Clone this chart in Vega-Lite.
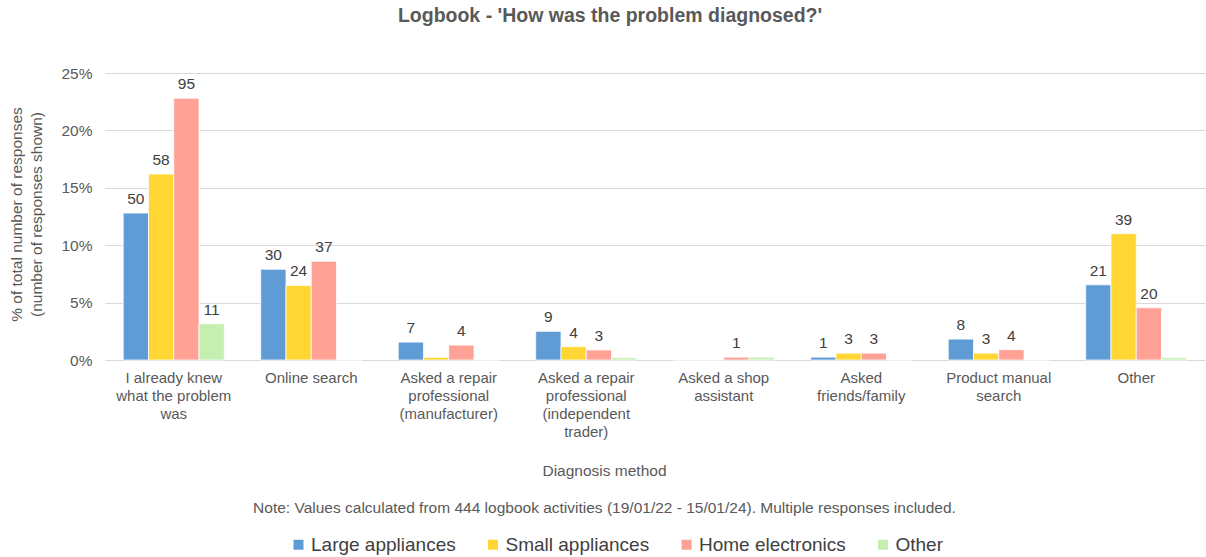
{
  "$schema": "https://vega.github.io/schema/vega-lite/v6.json",
  "width": 1100,
  "height": 287,
  "autosize": "none",
  "padding": {"left": 105, "top": 73, "right": 1, "bottom": 197},
  "background": "white",
  "config": {
    "font": "Liberation Sans",
    "view": {"stroke": null}
  },
  "title": {
    "text": "Logbook - 'How was the problem diagnosed?'",
    "fontSize": 19.5,
    "fontWeight": "bold",
    "color": "#595959",
    "anchor": "middle",
    "frame": "group",
    "dx": -45,
    "offset": 40
  },
  "data": {
    "values": [
      {"method": "I already knew what the problem was", "type": "Large appliances", "pct": 0.128, "count": 50},
      {"method": "I already knew what the problem was", "type": "Small appliances", "pct": 0.162, "count": 58},
      {"method": "I already knew what the problem was", "type": "Home electronics", "pct": 0.228, "count": 95},
      {"method": "I already knew what the problem was", "type": "Other", "pct": 0.0315, "count": 11},
      {"method": "Online search", "type": "Large appliances", "pct": 0.079, "count": 30},
      {"method": "Online search", "type": "Small appliances", "pct": 0.065, "count": 24},
      {"method": "Online search", "type": "Home electronics", "pct": 0.086, "count": 37},
      {"method": "Online search", "type": "Other", "pct": 0, "count": null},
      {"method": "Asked a repair professional (manufacturer)", "type": "Large appliances", "pct": 0.0156, "count": 7},
      {"method": "Asked a repair professional (manufacturer)", "type": "Small appliances", "pct": 0.0023, "count": null},
      {"method": "Asked a repair professional (manufacturer)", "type": "Home electronics", "pct": 0.013, "count": 4},
      {"method": "Asked a repair professional (manufacturer)", "type": "Other", "pct": 0, "count": null},
      {"method": "Asked a repair professional (independent trader)", "type": "Large appliances", "pct": 0.025, "count": 9},
      {"method": "Asked a repair professional (independent trader)", "type": "Small appliances", "pct": 0.0116, "count": 4},
      {"method": "Asked a repair professional (independent trader)", "type": "Home electronics", "pct": 0.0087, "count": 3},
      {"method": "Asked a repair professional (independent trader)", "type": "Other", "pct": 0.002, "count": null},
      {"method": "Asked a shop assistant", "type": "Large appliances", "pct": 0, "count": null},
      {"method": "Asked a shop assistant", "type": "Small appliances", "pct": 0, "count": null},
      {"method": "Asked a shop assistant", "type": "Home electronics", "pct": 0.0025, "count": 1},
      {"method": "Asked a shop assistant", "type": "Other", "pct": 0.0025, "count": null},
      {"method": "Asked friends/family", "type": "Large appliances", "pct": 0.0025, "count": 1},
      {"method": "Asked friends/family", "type": "Small appliances", "pct": 0.006, "count": 3},
      {"method": "Asked friends/family", "type": "Home electronics", "pct": 0.006, "count": 3},
      {"method": "Asked friends/family", "type": "Other", "pct": 0, "count": null},
      {"method": "Product manual search", "type": "Large appliances", "pct": 0.0182, "count": 8},
      {"method": "Product manual search", "type": "Small appliances", "pct": 0.006, "count": 3},
      {"method": "Product manual search", "type": "Home electronics", "pct": 0.009, "count": 4},
      {"method": "Product manual search", "type": "Other", "pct": 0, "count": null},
      {"method": "Other", "type": "Large appliances", "pct": 0.0655, "count": 21},
      {"method": "Other", "type": "Small appliances", "pct": 0.110, "count": 39},
      {"method": "Other", "type": "Home electronics", "pct": 0.0455, "count": 20},
      {"method": "Other", "type": "Other", "pct": 0.002, "count": null}
    ]
  },
  "encoding": {
    "x": {
      "field": "method",
      "type": "nominal",
      "sort": null,
      "scale": {"paddingInner": 0.265, "paddingOuter": 0.1325},
      "axis": {
        "title": ["Diagnosis method", "Note: Values calculated from 444 logbook activities (19/01/22 - 15/01/24). Multiple responses included."],
        "titleFontSize": 15.5,
        "titleFontWeight": "normal",
        "titleColor": "#595959",
        "titleLineHeight": 37,
        "titleX": 499,
        "titleY": 103,
        "titleAlign": "center",
        "titleBaseline": "top",
        "labelAngle": 0,
        "labelFontSize": 15,
        "labelColor": "#595959",
        "labelLineHeight": 18,
        "labelPadding": 10,
        "labelBaseline": "top",
        "ticks": false,
        "domain": false,
        "labelExpr": "datum.value == 'I already knew what the problem was' ? ['I already knew', 'what the problem', 'was'] : datum.value == 'Asked a repair professional (manufacturer)' ? ['Asked a repair', 'professional', '(manufacturer)'] : datum.value == 'Asked a repair professional (independent trader)' ? ['Asked a repair', 'professional', '(independent', 'trader)'] : datum.value == 'Asked a shop assistant' ? ['Asked a shop', 'assistant'] : datum.value == 'Asked friends/family' ? ['Asked', 'friends/family'] : datum.value == 'Product manual search' ? ['Product manual', 'search'] : datum.value"
      }
    },
    "xOffset": {
      "field": "type",
      "type": "nominal",
      "sort": ["Large appliances", "Small appliances", "Home electronics", "Other"],
      "scale": {"paddingInner": 0, "paddingOuter": 0}
    },
    "y": {
      "field": "pct",
      "type": "quantitative",
      "scale": {"domain": [0, 0.25], "nice": false},
      "axis": {
        "values": [0, 0.05, 0.1, 0.15, 0.2, 0.25],
        "format": ".0%",
        "title": ["% of total number of responses", "(number of responses shown)"],
        "titleFontSize": 15.5,
        "titleFontWeight": "normal",
        "titleColor": "#595959",
        "titleLineHeight": 20,
        "titleAngle": -90,
        "titleX": -96,
        "titleY": 141,
        "titleAlign": "center",
        "titleBaseline": "top",
        "labelFontSize": 15.5,
        "labelColor": "#595959",
        "labelPadding": 13,
        "ticks": false,
        "domain": false,
        "gridColor": "#D9D9D9",
        "gridWidth": 1
      }
    }
  },
  "layer": [
    {
      "mark": {"type": "bar", "stroke": "white", "strokeWidth": 0.75},
      "encoding": {
        "color": {
          "field": "type",
          "type": "nominal",
          "scale": {
            "domain": ["Large appliances", "Small appliances", "Home electronics", "Other"],
            "range": ["#5F9CD6", "#FFD633", "#FFA195", "#C4EFB0"]
          },
          "legend": {
            "title": null,
            "orient": "none",
            "legendX": 184,
            "legendY": 462,
            "direction": "horizontal",
            "labelFontSize": 19,
            "labelColor": "#404040",
            "symbolType": "square",
            "symbolSize": 100,
            "symbolStrokeWidth": 0,
            "labelOffset": 3,
            "columnPadding": 27.5
          }
        }
      }
    },
    {
      "transform": [{"filter": "datum.count != null"}],
      "mark": {"type": "text", "baseline": "bottom", "dy": -6, "fontSize": 15.5, "color": "#404040"},
      "encoding": {
        "text": {"field": "count", "type": "quantitative"}
      }
    }
  ]
}
